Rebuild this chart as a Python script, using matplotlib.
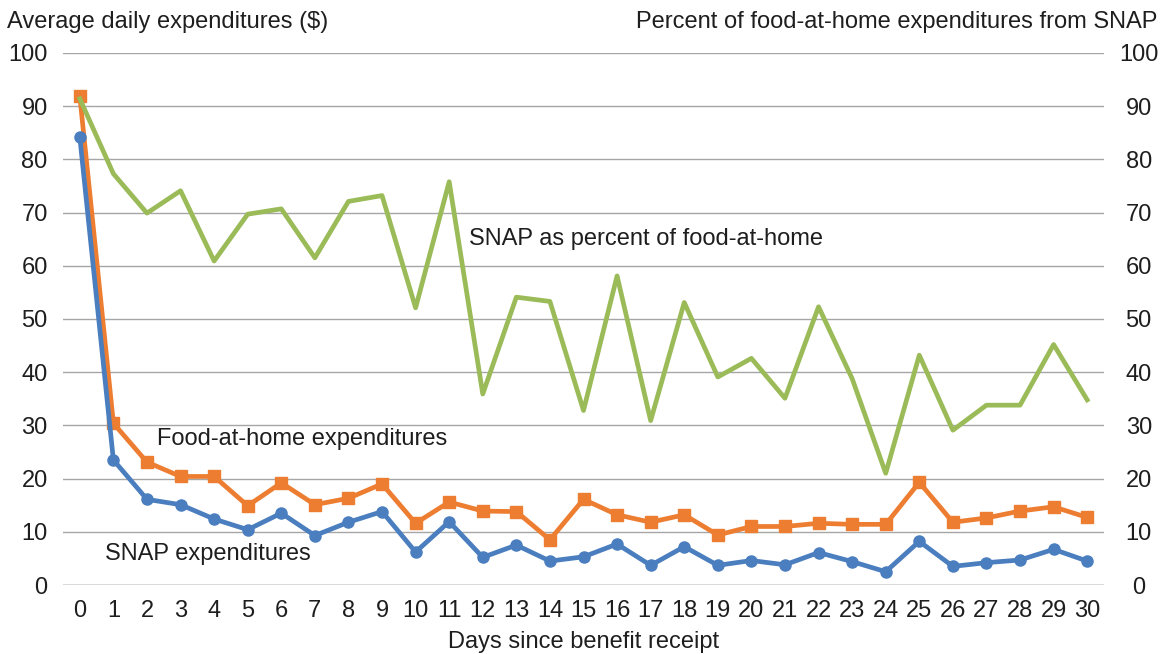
import matplotlib

matplotlib.use("Agg")
import matplotlib.pyplot as plt

plt.rcParams["font.family"] = ["Liberation Sans", "DejaVu Sans"]

days = list(range(31))
snap_spend = [84.2, 23.5, 16.1, 15.1, 12.4, 10.4, 13.5, 9.3, 11.8, 13.8, 6.2, 11.9,
              5.2, 7.5, 4.5, 5.3, 7.7, 3.7, 7.2, 3.7, 4.6, 3.8, 6.1, 4.4, 2.5, 8.2,
              3.5, 4.2, 4.7, 6.7, 4.5]
fah_spend = [91.9, 30.4, 23.1, 20.4, 20.4, 14.9, 19.2, 15.1, 16.3, 19.0, 11.6, 15.6,
             13.9, 13.8, 8.5, 16.1, 13.2, 11.8, 13.2, 9.4, 11.0, 11.0, 11.6, 11.4, 11.4, 19.3,
             11.8, 12.6, 13.9, 14.7, 12.7]
snap_pct = [91.4, 77.3, 69.9, 74.1, 60.9, 69.7, 70.7, 61.5, 72.1, 73.2, 52.1, 75.8,
            35.9, 54.1, 53.3, 32.8, 58.1, 30.9, 53.1, 39.1, 42.6, 35.1, 52.3, 38.8, 21.0, 43.2,
            29.1, 33.8, 33.8, 45.2, 34.8]
y_ticks = list(range(0, 101, 10))

BLUE = "#4a7ebf"
ORANGE = "#ed7d31"
GREEN = "#9bbb59"
TEXT = "#1e1e1e"
FS = 17

fig = plt.figure(figsize=(11.67, 6.54), dpi=100)
ax = fig.add_axes([0.054, 0.1055, 0.892, 0.8135])
ax2 = ax.twinx()

# horizontal grid, bottom line lighter and a bit thicker
for y in y_ticks:
    ax.axhline(y, color="#d6d6d6" if y == 0 else "#a6a6a6", lw=2.0 if y == 0 else 1.0, zorder=0)

ax.plot(days, snap_spend, color=BLUE, lw=3.4, marker="o", ms=8, zorder=3)
ax.plot(days, fah_spend, color=ORANGE, lw=3.4, marker="s", ms=8.5, zorder=2)
ax2.plot(days, snap_pct, color=GREEN, lw=3.4, zorder=4)

for a in (ax, ax2):
    a.set_xlim(-0.5, 30.5)
    a.set_ylim(0, 100)
    a.set_yticks(y_ticks)
    for s in a.spines.values():
        s.set_visible(False)
    a.tick_params(length=0, labelsize=FS, colors=TEXT)

ax.tick_params(axis="y", pad=11)
ax2.tick_params(axis="y", pad=25)
for lab in ax2.get_yticklabels():
    lab.set_horizontalalignment("center")
ax.tick_params(axis="x", pad=11)
ax.set_xticks(days)
ax.set_xlabel("Days since benefit receipt", fontsize=FS, color=TEXT, labelpad=6)

ax.text(11.59, 65.0, "SNAP as percent of food-at-home", fontsize=FS, color=TEXT, va="center", zorder=5)
ax.text(2.29, 27.4, "Food-at-home expenditures", fontsize=FS, color=TEXT, va="center", zorder=5)
ax.text(0.74, 5.9, "SNAP expenditures", fontsize=FS, color=TEXT, va="center", zorder=5)

fig.text(0.006, 0.966, "Average daily expenditures ($)", fontsize=FS, color=TEXT, va="center", ha="left")
fig.text(0.992, 0.966, "Percent of food-at-home expenditures from SNAP", fontsize=FS, color=TEXT,
         va="center", ha="right")

fig.savefig("out.png", dpi=100)
